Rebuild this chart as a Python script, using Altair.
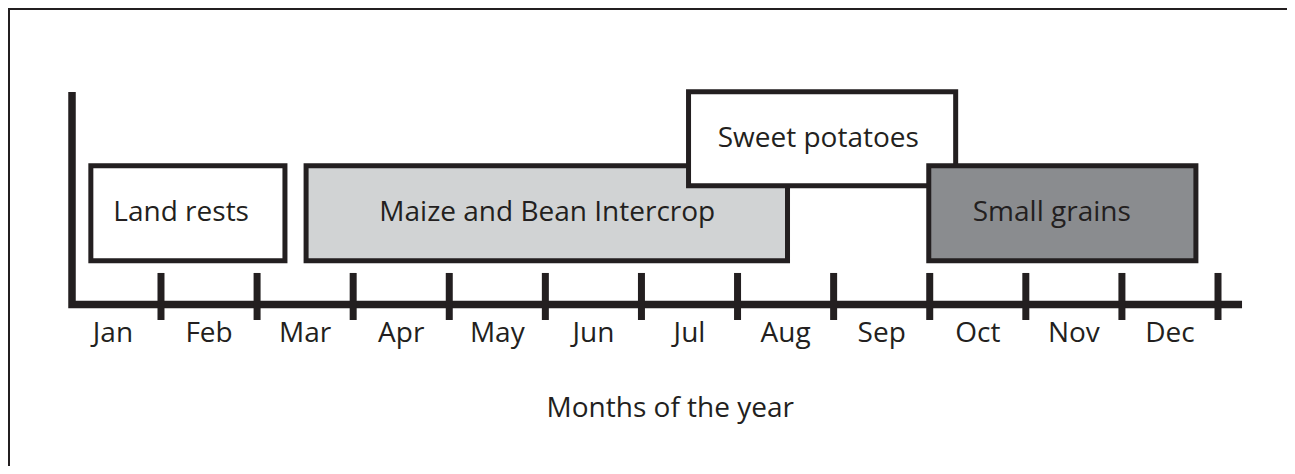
import altair as alt
import pandas as pd

# ---- data ----
months = ["Jan", "Feb", "Mar", "Apr", "May", "Jun",
          "Jul", "Aug", "Sep", "Oct", "Nov", "Dec"]
month_bounds = [1, 2, 3, 4, 5, 6, 7, 8, 9, 10, 11, 12]

crops = ["Land rests", "Maize and Bean Intercrop", "Sweet potatoes", "Small grains"]
crop_start = [0.27, 2.51, 6.49, 8.99]     # in months
crop_end = [2.29, 7.52, 9.27, 11.77]
crop_low = [0.46, 0.46, 1.25, 0.46]       # level above the time axis
crop_high = [1.46, 1.46, 2.24, 1.46]
crop_label_x = [1.21, 5.02, 7.84, 10.27]
crop_fill = ["#ffffff", "#d1d3d4", "#ffffff", "#8a8c8f"]

axis_title = "Months of the year"

# ---- geometry / style constants ----
W, H = 1279, 458
INK = "#231f20"
FONT = "Open Sans"
FS = 28
AXIS_X0, AXIS_X1 = 0.074, 12.25
AXIS_TOP = 2.237
TICK_TOP, TICK_BOTTOM = 0.332, -0.163
LABEL_Y = -0.395
TITLE_X, TITLE_Y = 6.30, -1.184

x_scale = alt.Scale(domain=[-0.5921, 12.718], nice=False, zero=False)
y_scale = alt.Scale(domain=[-1.7, 3.1211], nice=False, zero=False)

crop_df = pd.DataFrame({
    "crop": crops, "start": crop_start, "end": crop_end,
    "low": crop_low, "high": crop_high, "lx": crop_label_x, "fill": crop_fill,
    "o": list(range(len(crops))),
})
month_df = pd.DataFrame({"month": months, "center": [i + 0.5 for i in range(len(months))]})
bound_df = pd.DataFrame({"bound": month_bounds})
axis_df = pd.DataFrame({
    "x": [AXIS_X0, AXIS_X0, AXIS_X1],
    "y": [AXIS_TOP, 0.0, 0.0],
    "o": [0, 1, 2],
})

boxes = alt.Chart(crop_df).mark_rect(stroke=INK, strokeWidth=5).encode(
    x=alt.X("start:Q", scale=x_scale, axis=None),
    x2="end:Q",
    y=alt.Y("low:Q", scale=y_scale, axis=None),
    y2="high:Q",
    fill=alt.Fill("fill:N", scale=None),
    order=alt.Order("o:Q"),
)

box_labels = alt.Chart(crop_df).transform_calculate(
    mid="(datum.low + datum.high) / 2"
).mark_text(font=FONT, fontSize=FS, color=INK, baseline="middle", align="center").encode(
    x=alt.X("lx:Q", scale=x_scale, axis=None),
    y=alt.Y("mid:Q", scale=y_scale, axis=None),
    text="crop:N",
)

axis_line = alt.Chart(axis_df).mark_line(
    color=INK, strokeWidth=7.5, strokeJoin="miter", strokeCap="butt"
).encode(
    x=alt.X("x:Q", scale=x_scale, axis=None),
    y=alt.Y("y:Q", scale=y_scale, axis=None),
    order="o:Q",
)

ticks = alt.Chart(bound_df).mark_rule(color=INK, strokeWidth=7).encode(
    x=alt.X("bound:Q", scale=x_scale, axis=None),
    y=alt.YDatum(TICK_TOP, type="quantitative", scale=y_scale, axis=None),
    y2=alt.Y2Datum(TICK_BOTTOM),
)

month_labels = alt.Chart(month_df).mark_text(
    font=FONT, fontSize=FS, color=INK, baseline="alphabetic", align="center"
).encode(
    x=alt.X("center:Q", scale=x_scale, axis=None),
    y=alt.YDatum(LABEL_Y, type="quantitative", scale=y_scale, axis=None),
    text="month:N",
)

title = alt.Chart(pd.DataFrame({"t": [axis_title]})).mark_text(
    font=FONT, fontSize=FS, color=INK, baseline="alphabetic", align="center"
).encode(
    x=alt.XDatum(TITLE_X, type="quantitative", scale=x_scale, axis=None),
    y=alt.YDatum(TITLE_Y, type="quantitative", scale=y_scale, axis=None),
    text="t:N",
)

edge_df = pd.DataFrame({"edge": ["frame"]})
border_top = alt.Chart(edge_df).mark_rule(color=INK, strokeWidth=2).encode(
    x=alt.value(0), x2=alt.value(W), y=alt.value(1)
)
border_left = alt.Chart(edge_df).mark_rule(color=INK, strokeWidth=2).encode(
    x=alt.value(1), y=alt.value(0), y2=alt.value(H)
)

chart = alt.layer(
    border_top, border_left, boxes, box_labels, axis_line, ticks, month_labels, title
).properties(
    width=W, height=H,
    autosize=alt.AutoSizeParams(type="none"),
    padding=0,
    background="white",
).configure_view(strokeWidth=0, strokeOpacity=0)

chart.save("out.html", embed_options={"renderer": "svg", "actions": False})
